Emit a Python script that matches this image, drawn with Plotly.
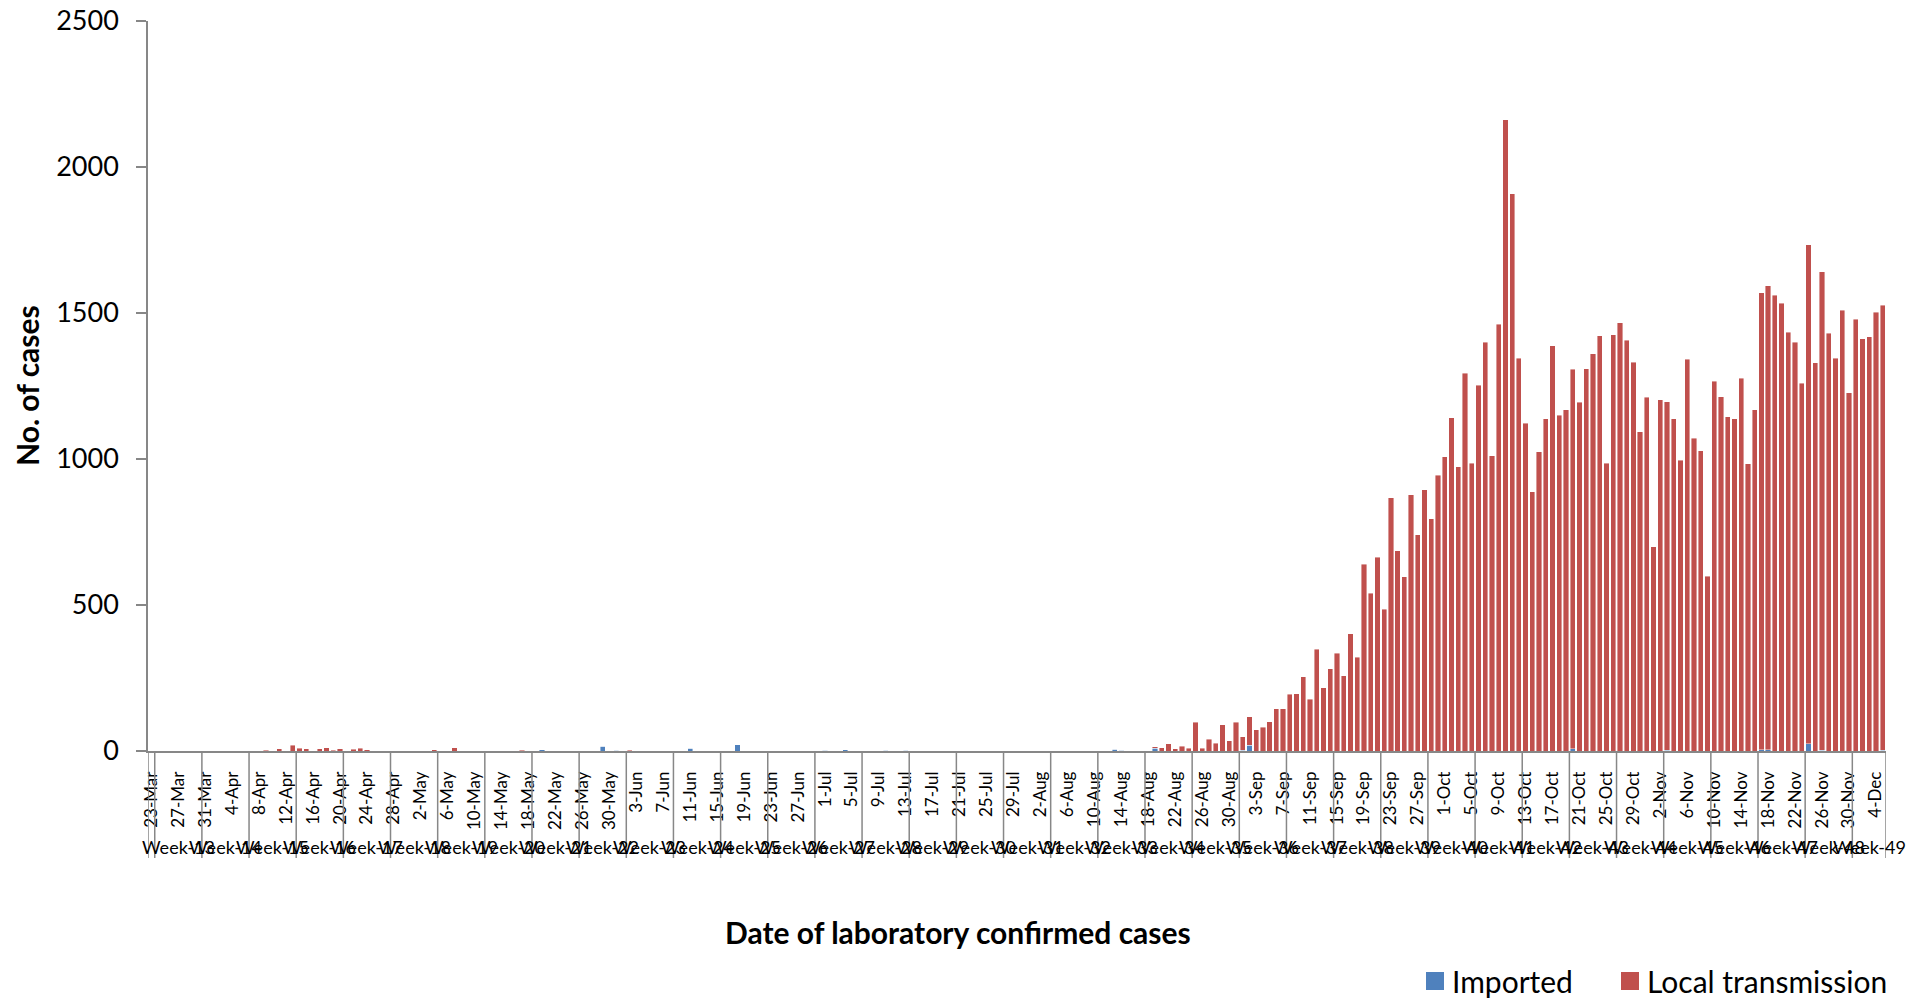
import pandas as pd
import plotly.graph_objects as go

# ---------------- data ----------------
dates = [f"{d.day}-{d.strftime('%b')}" for d in pd.date_range("2020-03-23", "2020-12-05")]

local_transmission = [
    0, 0, 0, 0, 1, 0, 1, 0, 0, 0, 1, 0, 0, 0, 0, 0, 0, 3, 0, 8,
    1, 19, 10, 8, 1, 8, 11, 2, 7, 1, 6, 10, 5, 0, 0, 0, 1, 0, 0, 0,
    0, 1, 5, 0, 0, 11, 0, 0, 0, 0, 0, 0, 0, 0, 0, 3, 0, 0, 0, 0,
    0, 0, 0, 0, 0, 0, 0, 0, 0, 0, 0, 3, 0, 0, 0, 0, 0, 0, 0, 0,
    0, 0, 0, 0, 0, 0, 0, 0, 0, 0, 0, 0, 0, 0, 0, 0, 0, 0, 0, 0,
    0, 0, 0, 0, 0, 0, 0, 0, 0, 0, 0, 0, 0, 0, 0, 0, 0, 0, 0, 0,
    0, 0, 0, 0, 0, 0, 0, 0, 0, 0, 0, 0, 0, 0, 0, 0, 0, 0, 0, 0,
    0, 0, 0, 0, 0, 0, 0, 0, 0, 5, 11, 24, 8, 17, 9, 98, 10, 41, 26, 90,
    35, 98, 46, 98, 73, 81, 100, 144, 145, 195, 196, 255, 178, 349, 217, 282, 334, 257, 402, 321,
    640, 541, 664, 485, 867, 686, 596, 878, 741, 895, 796, 945, 1008, 1142, 974, 1294, 986, 1252, 1400, 1011,
    1461, 2161, 1908, 1345, 1122, 888, 1025, 1138, 1388, 1150, 1169, 1299, 1194, 1309, 1361, 1422, 985, 1425, 1467, 1407,
    1331, 1094, 1211, 699, 1203, 1194, 1138, 995, 1342, 1071, 1028, 598, 1266, 1214, 1144, 1138, 1277, 983, 1168, 1566,
    1589, 1561, 1533, 1434, 1399, 1259, 1709, 1330, 1639, 1430, 1345, 1510, 1227, 1478, 1411, 1418, 1503, 1524,
]

imported = [
    0, 0, 0, 0, 0, 0, 0, 0, 0, 0, 0, 0, 0, 0, 0, 0, 0, 0, 0, 0,
    0, 0, 0, 0, 0, 0, 0, 0, 0, 0, 0, 0, 0, 0, 0, 0, 0, 0, 0, 0,
    0, 0, 0, 0, 0, 0, 0, 0, 0, 0, 0, 0, 0, 0, 0, 0, 0, 0, 5, 0,
    0, 0, 0, 0, 0, 0, 0, 17, 0, 2, 0, 0, 0, 0, 0, 1, 0, 0, 0, 0,
    9, 0, 0, 0, 0, 0, 0, 21, 0, 0, 0, 0, 0, 0, 0, 0, 0, 0, 0, 0,
    2, 0, 0, 5, 0, 0, 0, 0, 0, 2, 0, 0, 2, 0, 0, 0, 0, 0, 0, 0,
    0, 0, 0, 0, 0, 0, 0, 0, 0, 0, 0, 0, 0, 0, 0, 0, 0, 0, 0, 0,
    0, 0, 0, 6, 3, 0, 0, 0, 0, 10, 0, 0, 0, 0, 0, 0, 0, 0, 0, 0,
    0, 0, 3, 20, 0, 0, 0, 0, 0, 0, 0, 0, 0, 0, 0, 0, 0, 0, 0, 0,
    0, 0, 0, 0, 0, 0, 0, 0, 0, 0, 0, 0, 0, 0, 0, 0, 0, 0, 0, 0,
    0, 0, 0, 0, 0, 0, 0, 0, 0, 0, 0, 8, 0, 0, 0, 0, 0, 0, 0, 0,
    0, 0, 0, 0, 0, 2, 0, 0, 0, 0, 0, 0, 0, 0, 0, 0, 0, 0, 0, 4,
    4, 0, 0, 0, 0, 0, 24, 0, 2, 0, 0, 0, 0, 0, 0, 0, 0, 3,
]

# epidemiological week of each day (first day belongs to week 12, weeks start on Tuesdays)
week_numbers = [12] + [13 + (i - 1) // 7 for i in range(1, len(dates))]
week_labels = [f"Week-{w}" for w in week_numbers]
date_ticks = dates[::4]
y_ticks = [0, 500, 1000, 1500, 2000, 2500]
series_names = ["Imported", "Local transmission"]

assert len(dates) == len(local_transmission) == len(imported)

# ---------------- style / layout ----------------
FONT = "Lato, Carlito, Calibri, sans-serif"
BLUE = "#4F81BD"
RED = "#C0504D"
AXIS = "#878787"

# page has an 8px body margin: figure starts at (8, 8) and reaches the window's edges
OFF = 8
W, H = 1923 - OFF, 999 - OFF
PL, PR, PT, PB = 148, 1886, 21, 751          # plot area in page pixels
ML, MR, MT, MB = PL - OFF, W - (PR - OFF), PT - OFF, H - (PB - OFF)


def px(xp):  # page pixel -> paper x
    return (xp - PL) / (PR - PL)


def py(yp):  # page pixel -> paper y
    return (PB - yp) / (PB - PT)


fig = go.Figure()
fig.add_trace(go.Bar(x=dates, y=imported, name=series_names[0], showlegend=False,
                     marker=dict(color=BLUE, line=dict(color="rgba(255,255,255,0.7)", width=0.6))))
fig.add_trace(go.Bar(x=dates, y=local_transmission, name=series_names[1], showlegend=False,
                     marker=dict(color=RED, line=dict(color="rgba(255,255,255,0.7)", width=0.6))))

shapes = []
annotations = []

# week groups: dividers and labels computed from the week numbers
groups = []
start = 0
for i in range(1, len(dates) + 1):
    if i == len(dates) or week_numbers[i] != week_numbers[start]:
        groups.append((start, i - 1, week_labels[start]))
        start = i
div_bottom = py(858)
for (s, e, lab) in groups:
    shapes.append(dict(type="line", xref="x", yref="paper", x0=s - 0.5, x1=s - 0.5,
                       y0=0, y1=div_bottom, line=dict(color=AXIS, width=1.5)))
    if e > s:  # single-day partial group label is not shown
        annotations.append(dict(x=(s + e) / 2, y=py(847), xref="x", yref="paper",
                                text=lab, showarrow=False, xanchor="center", yanchor="middle",
                                font=dict(family=FONT, size=18, color="black")))
shapes.append(dict(type="line", xref="x", yref="paper", x0=len(dates) - 0.5, x1=len(dates) - 0.5,
                   y0=0, y1=div_bottom, line=dict(color=AXIS, width=1.5)))

# axis titles
annotations.append(dict(text="<b>No. of cases</b>", x=px(27), y=0.5, xref="paper", yref="paper",
                        textangle=-90, showarrow=False, xanchor="center", yanchor="middle",
                        font=dict(family=FONT, size=30, color="black")))
annotations.append(dict(text="<b>Date of laboratory confirmed cases</b>", x=px(958), y=py(932),
                        xref="paper", yref="paper", showarrow=False, xanchor="center", yanchor="middle",
                        font=dict(family=FONT, size=30, color="black")))

# legend (drawn manually so that it does not push the plot margins)
legend_items = [(series_names[0], BLUE, 1426, 1444), (series_names[1], RED, 1621, 1639)]
for name, col, x0, x1 in legend_items:
    shapes.append(dict(type="rect", xref="paper", yref="paper", x0=px(x0), x1=px(x1),
                       y0=py(990), y1=py(972), fillcolor=col, line=dict(width=0)))
    annotations.append(dict(text=name, x=px(x1 + 6), y=py(981), xref="paper", yref="paper",
                            showarrow=False, xanchor="left", yanchor="middle",
                            font=dict(family=FONT, size=30, color="black")))

fig.update_layout(
    width=W, height=H,
    margin=dict(l=ML, r=MR, t=MT, b=MB, autoexpand=False),
    paper_bgcolor="white", plot_bgcolor="white",
    barmode="stack", bargap=0.22,
    font=dict(family=FONT, color="black"),
    showlegend=False,
    shapes=shapes,
    annotations=annotations,
    xaxis=dict(type="category", categoryorder="array", categoryarray=dates,
               range=[-0.5, len(dates) - 0.5],
               tickmode="array", tickvals=date_ticks, ticktext=date_ticks,
               tickangle=-90, ticks="", ticklabelstandoff=12,
               tickfont=dict(family=FONT, size=17, color="black"),
               showline=True, linecolor=AXIS, linewidth=1.5, showgrid=False, zeroline=False),
    yaxis=dict(range=[0, 2500], tickmode="array", tickvals=y_ticks,
               ticks="outside", ticklen=10, tickcolor=AXIS, tickwidth=1.5, ticklabelstandoff=12,
               ticklabeloverflow="allow",
               tickfont=dict(family=FONT, size=27, color="black"),
               showline=True, linecolor=AXIS, linewidth=1.5, showgrid=False, zeroline=False),
)

fig.write_html("out.html")
